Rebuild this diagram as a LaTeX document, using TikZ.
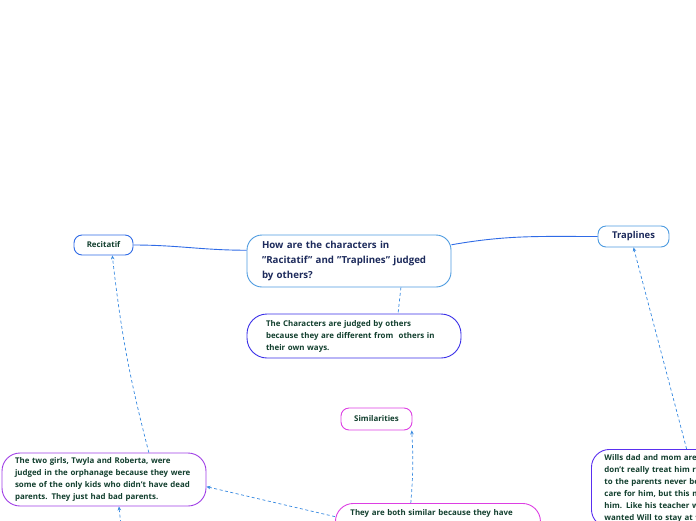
\documentclass[tikz,border=0pt]{standalone}
\usepackage{fontspec}
\setmainfont{Open Sans}
\usepackage{tikz}
\usetikzlibrary{arrows.meta}
\definecolor{mmBlue}{HTML}{2F6BE6}
\definecolor{mmSky}{HTML}{4D9BE0}
\definecolor{mmIndigo}{HTML}{3A2FE8}
\definecolor{mmPink}{HTML}{DD3FE3}
\definecolor{mmPurple}{HTML}{A03FE6}
\definecolor{mmViolet}{HTML}{5A2FF0}
\definecolor{mmNavy}{HTML}{1D2B5C}
\definecolor{mmInk}{HTML}{123F2E}
\definecolor{mmDash}{HTML}{3588E0}
\newcommand{\dq}{\char"22\relax}

\begin{document}
\begin{tikzpicture}[x=1pt, y=-1pt,
  topic/.style={draw=mmSky, fill=white, rounded corners=15pt, align=left, text=mmNavy,
               line width=0.9pt, inner xsep=15pt, text width=174pt, minimum height=52pt,
               font=\bfseries\fontsize{9.7}{15}\selectfont},
  branch/.style={draw=#1, fill=white, rounded corners=8pt, align=center, line width=0.9pt,
               inner sep=0pt, font=\bfseries\fontsize{7.9}{9}\selectfont},
  note/.style={draw=#1, fill=white, rounded corners=18pt, align=left, text=mmInk, line width=0.9pt,
               font=\bfseries\fontsize{7.9}{12}\selectfont},
  link/.style={draw=mmBlue, line width=0.9pt},
  dline/.style={draw=mmDash, line width=0.7pt, dashed, dash pattern=on 3pt off 2.5pt},
  darr/.style={dline, -{Stealth[length=4pt, width=3.5pt]}},
]
\useasboundingbox (0,0) rectangle (696,520);
\clip (0,0) rectangle (696,520);

\node[topic] (q) at (349,261) {How are the characters in\\\dq Racitatif\dq{} and \dq Traplines\dq{} judged\\by others?};
\node[branch=mmBlue, text=mmInk, minimum width=59pt, minimum height=20pt] (rec) at (103.5,245) {Recitatif};
\node[branch=mmSky, text=mmNavy, minimum width=71pt, minimum height=21pt, font=\bfseries\fontsize{9.4}{10}\selectfont] (trap) at (633.5,236.5) {Traplines};
\node[note=mmIndigo, rounded corners=20pt, inner xsep=19pt, text width=176pt, minimum height=44pt] (judged) at (354,336)
  {The Characters are judged by others\\because they are different from\ \ others in\\their own ways.};
\node[branch=mmPink, text=mmInk, minimum width=71pt, minimum height=22pt] (sim) at (376.5,419) {Similarities};
\node[note=mmPurple, inner xsep=13pt, text width=178pt, minimum height=53pt] (girls) at (104,479.5)
  {The two girls, Twyla and Roberta, were\\judged in the orphanage because they were\\some of the only kids who didn't have dead\\parents. They just had bad parents.};
\node[note=mmPink, inner xsep=15pt, inner ysep=6pt, text width=175pt, text depth=30pt, anchor=north west] (both) at (335,503)
  {They are both similar because they have};
\node[note=mmViolet, inner xsep=13pt, inner ysep=5pt, text width=184pt, anchor=north west] (wills) at (591,449)
  {Wills dad and mom are\\don't really treat him ri\\to the parents never be\\care for him, but this m\\him. Like his teacher w\\wanted Will to stay at t};
\coordinate (below) at (123,545);

\draw[link] (q.174) to[out=180, in=0] (rec.east);
\draw[link] (q.9) to[out=10, in=180] (trap.west);
\draw[dline] (q.-27) -- (judged.27);
\draw[darr] (girls.31) to[bend left=4] (rec.-50);
\draw[darr] (both.174) -- (girls.-4);
\draw[darr] (both.138) to[bend right=4] (sim.-18);
\draw[darr] (below) -- (girls.-61);
\draw[darr] (wills.104) -- (trap.south);
\end{tikzpicture}
\end{document}
